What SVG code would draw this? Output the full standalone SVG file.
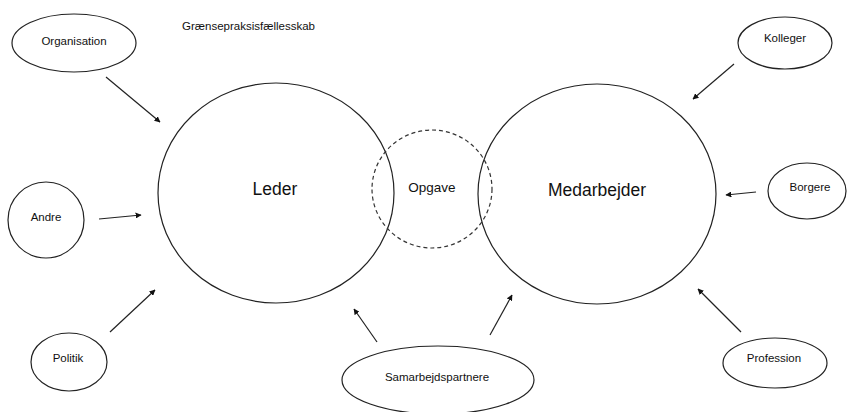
<svg xmlns="http://www.w3.org/2000/svg" width="847" height="412" viewBox="0 0 847 412">
  <style>
    .shape { fill: #ffffff; stroke: #222222; stroke-width: 1.2; }
    .dashed { fill: none; stroke: #333333; stroke-width: 1.2; stroke-dasharray: 4 3; }
    .label { font-family: "Liberation Sans", Arial, sans-serif; fill: #111111; text-anchor: middle; }
    .small { font-size: 11.5px; }
    .big { font-size: 17.5px; }
    .mid { font-size: 13.5px; }
    .edge { fill: none; stroke: #222222; stroke-width: 1.2; marker-end: url(#arrow); }
  </style>
  <defs>
    <marker id="arrow" viewBox="0 0 10 10" refX="9" refY="5" markerWidth="6" markerHeight="6" markerUnits="userSpaceOnUse" orient="auto">
      <path d="M0,0 L10,5 L0,10 z" fill="#111111"/>
    </marker>
  </defs>
  <rect width="847" height="412" fill="#ffffff"/>

  <text class="label small" x="182" y="30" style="text-anchor:start">Grænsepraksisfællesskab</text>

  <g id="leder">
    <ellipse class="shape" cx="276" cy="193" rx="118" ry="110"/>
    <text class="label big" x="275" y="195">Leder</text>
  </g>
  <g id="medarbejder">
    <ellipse class="shape" cx="597" cy="194" rx="119" ry="110" style="fill:none"/>
    <text class="label big" x="597" y="196">Medarbejder</text>
  </g>
  <g id="opgave">
    <ellipse class="dashed" cx="432" cy="189" rx="60" ry="59"/>
    <text class="label mid" x="432" y="192">Opgave</text>
  </g>

  <g id="organisation">
    <ellipse class="shape" cx="74" cy="43" rx="62" ry="29"/>
    <text class="label small" x="74" y="45">Organisation</text>
  </g>
  <g id="kolleger">
    <ellipse class="shape" cx="785" cy="43" rx="47" ry="26"/>
    <text class="label small" x="785" y="42">Kolleger</text>
  </g>
  <g id="andre">
    <ellipse class="shape" cx="46" cy="220" rx="38" ry="38"/>
    <text class="label small" x="46" y="221">Andre</text>
  </g>
  <g id="borgere">
    <ellipse class="shape" cx="807" cy="191" rx="39" ry="28"/>
    <text class="label small" x="810" y="191">Borgere</text>
  </g>
  <g id="politik">
    <ellipse class="shape" cx="69" cy="362" rx="38" ry="29"/>
    <text class="label small" x="68" y="362">Politik</text>
  </g>
  <g id="samarbejdspartnere">
    <ellipse class="shape" cx="438" cy="380" rx="96" ry="34"/>
    <text class="label small" x="437" y="381">Samarbejdspartnere</text>
  </g>
  <g id="profession">
    <ellipse class="shape" cx="775" cy="363" rx="52" ry="25"/>
    <text class="label small" x="774" y="362">Profession</text>
  </g>

  <g id="connectors">
    <line class="edge" x1="106" y1="77" x2="160" y2="122"/>
    <line class="edge" x1="734" y1="64" x2="693" y2="99"/>
    <line class="edge" x1="99" y1="219" x2="141" y2="215"/>
    <line class="edge" x1="756" y1="192" x2="726" y2="195"/>
    <line class="edge" x1="110" y1="332" x2="155" y2="290"/>
    <line class="edge" x1="377" y1="342" x2="354" y2="309"/>
    <line class="edge" x1="490" y1="335" x2="512" y2="295"/>
    <line class="edge" x1="741" y1="332" x2="698" y2="289"/>
  </g>
</svg>
